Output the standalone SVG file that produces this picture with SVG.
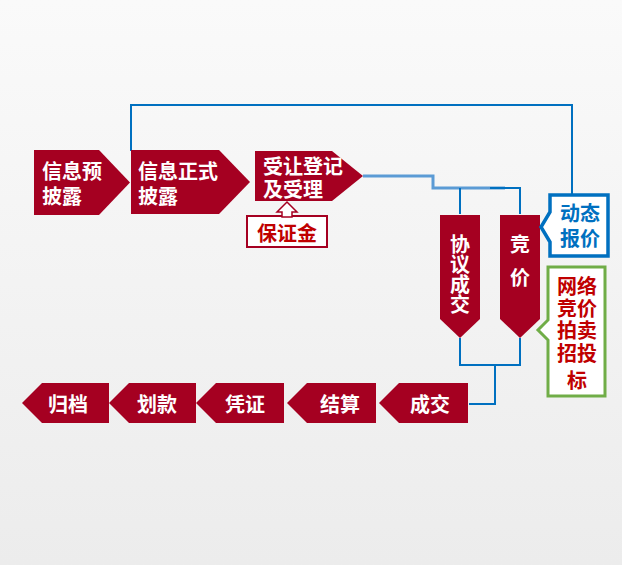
<svg xmlns="http://www.w3.org/2000/svg" width="622" height="565" viewBox="0 0 622 565">
<defs>
<linearGradient id="bg" x1="0" y1="0" x2="0" y2="1">
<stop offset="0" stop-color="#fafafa"/>
<stop offset="1" stop-color="#ececec"/>
</linearGradient>
</defs>
<style>
.n{fill:#a50021}
.t{fill:#ffffff;font-family:"Noto Sans CJK SC","Noto Sans",sans-serif;font-weight:bold;font-size:20px;dominant-baseline:central}
.c{text-anchor:middle}
.v{writing-mode:vertical-rl;text-anchor:middle;dominant-baseline:auto}
.ln{fill:none;stroke:#0070c0;stroke-width:2}
.lt{fill:none;stroke:#5b9bd5;stroke-width:3}
</style>
<rect width="622" height="565" fill="url(#bg)"/>
<g id="connectors">
<path class="ln" d="M131,151 V105 H572 V195"/>
<path class="lt" d="M363,176 H433 V188 H505"/>
<path class="ln" d="M490,188 H520 V214 M460,188 V214"/>
<path class="ln" d="M460,338 V365 H520 V338 M495,365 V404 H469"/>
</g>
<g id="n1">
<polygon class="n" points="34,150 99,150 130,182.5 99,215 34,215"/>
<text class="t"><tspan x="42" y="170">信息预</tspan><tspan x="42" y="195">披露</tspan></text>
</g>
<g id="n2">
<polygon class="n" points="131,150 219,150 250,182 219,214 131,214"/>
<text class="t"><tspan x="138" y="170">信息正式</tspan><tspan x="138" y="195">披露</tspan></text>
</g>
<g id="n3">
<polygon class="n" points="255,151 332,151 363,176 332,201 255,201"/>
<text class="t"><tspan x="263" y="165">受让登记</tspan><tspan x="263" y="188">及受理</tspan></text>
</g>
<g id="deposit">
<rect x="247" y="216" width="80" height="31" fill="#ffffff" stroke="#a50021" stroke-width="2"/>
<polygon points="282,217 282,212 277,212 287,202 297,212 292,212 292,217" fill="#ffffff" stroke="#a50021" stroke-width="1.5"/>
<text class="t c" x="287" y="232" style="fill:#c00000">保证金</text>
</g>
<g id="n4">
<polygon class="n" points="440,215 480,215 480,319 460,338 440,319"/>
<text class="t v" x="460" y="274">协议成交</text>
</g>
<g id="n5">
<polygon class="n" points="500,215 540,215 540,319 520,338 500,319"/>
<text class="t v" x="520" y="267" style="letter-spacing:13px">竞价</text>
</g>
<g id="quote">
<path d="M550,195 H608 V256 H550 V242 L541,227 L550,212 Z" fill="#ffffff" stroke="#0070c0" stroke-width="3.5"/>
<text class="t c" style="fill:#0070c0"><tspan x="580" y="212">动态</tspan><tspan x="580" y="237">报价</tspan></text>
</g>
<g id="online">
<path d="M548,267 H605 V396 H548 V340 L538,330 L548,320 Z" fill="#ffffff" stroke="#70ad47" stroke-width="3"/>
<text class="t c" style="fill:#c00000"><tspan x="577" y="285">网络</tspan><tspan x="577" y="307">竞价</tspan><tspan x="577" y="329">拍卖</tspan><tspan x="577" y="352">招投</tspan><tspan x="577" y="379">标</tspan></text>
</g>
<g id="b1">
<polygon class="n" points="379,403 399,383 468,383 468,423 399,423"/>
<text class="t c" x="430" y="403">成交</text>
</g>
<g id="b2">
<polygon class="n" points="287,403 307,383 376,383 376,423 307,423"/>
<text class="t c" x="340" y="403">结算</text>
</g>
<g id="b3">
<polygon class="n" points="196,403 216,383 284,383 284,423 216,423"/>
<text class="t c" x="245" y="403">凭证</text>
</g>
<g id="b4">
<polygon class="n" points="109,403 129,383 196,383 196,423 129,423"/>
<text class="t c" x="157" y="403">划款</text>
</g>
<g id="b5">
<polygon class="n" points="22,403 42,383 109,383 109,423 42,423"/>
<text class="t c" x="68" y="403">归档</text>
</g>
</svg>
